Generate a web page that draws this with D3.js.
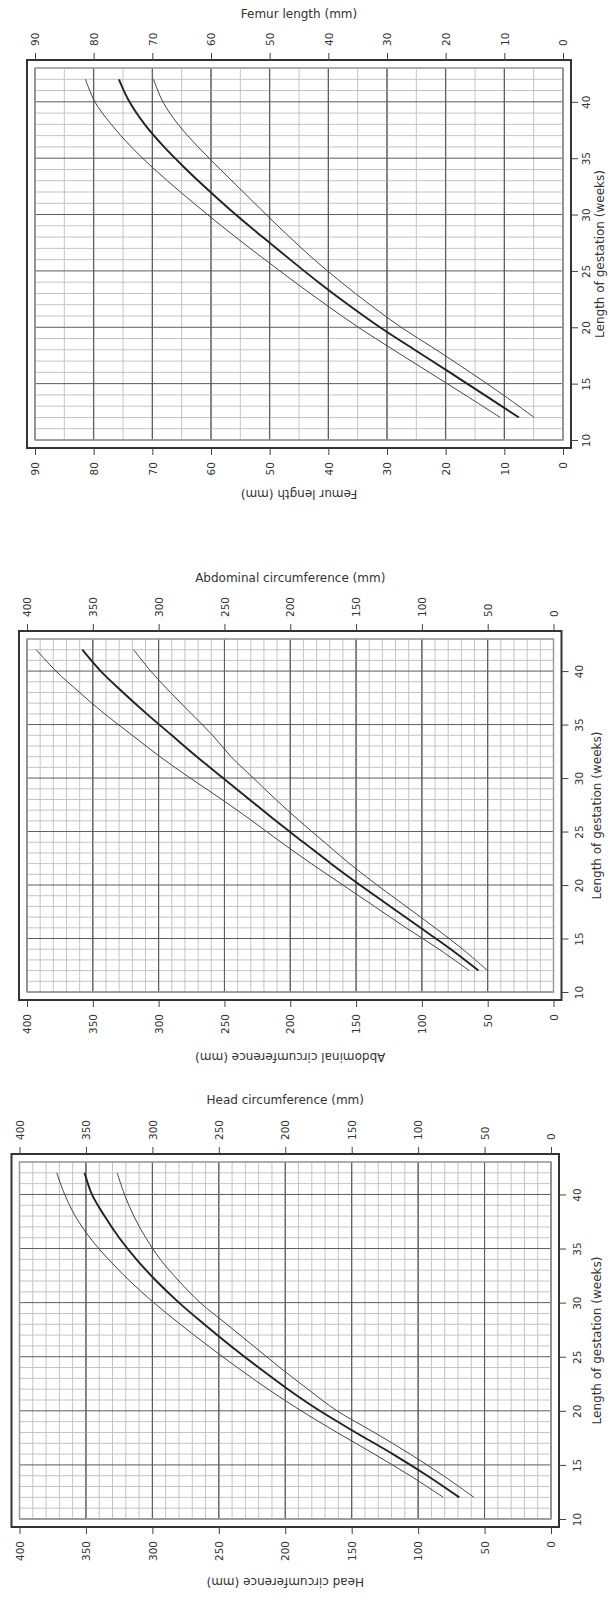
<html lang="en">
  <head>
    <meta charset="utf-8">
    <title>Fetal growth charts</title>
    <script src="https://d3js.org/d3.v7.min.js"></script>
    <style>
      body { margin: 0; background: #fff; }
      text { font-family: "DejaVu Sans", Verdana, sans-serif; fill: #333; }
      .title { font-size: 12px; }
      .tick text { font-size: 10.5px; fill: #333; }
    </style>
  </head>
  <body>
    <script type="text/javascript">

    var weeks = [12, 14, 16, 18, 20, 22, 24, 26, 28, 30, 32, 34, 36, 38, 40, 42];

    // femur length (mm)
    var femurLower = [4.9, 10.2, 15.8, 21.6, 27.6, 32.9, 37.8, 42.4, 46.6, 50.6, 54.5, 58.4, 62.2, 65.6, 68.2, 69.8];
    var femurMean  = [7.5, 13.4, 19.3, 25.3, 31.2, 36.6, 41.7, 46.5, 51.2, 55.8, 60.1, 64.2, 68.0, 71.3, 73.9, 75.7];
    var femurUpper = [10.7, 16.7, 22.8, 28.9, 34.9, 40.4, 45.7, 50.8, 55.8, 60.6, 65.2, 69.6, 73.6, 77.0, 79.8, 81.4];

    // abdominal circumference (mm)
    var acLower = [50, 69, 90, 112, 134, 155, 174, 193, 211, 228, 245, 259, 275, 291, 306, 319];
    var acMean  = [57, 78, 101, 124, 147, 169, 190, 211, 231, 251, 271, 290, 309, 327, 344, 358];
    var acUpper = [64, 87, 112, 136, 160, 184, 207, 229, 252, 276, 299, 320, 341, 360, 378, 393];

    // head circumference (mm)
    var hcLower = [58, 81, 106, 133, 161, 183, 204, 224, 244, 264, 280, 294, 305, 314, 321, 326.5];
    var hcMean  = [69, 93, 119, 147, 174, 198, 220, 241, 261, 280, 297, 312, 325, 336, 345.5, 351];
    var hcUpper = [81, 106, 133, 161, 188, 213, 236, 258, 279, 299, 317, 333, 347, 358, 366, 372];

    // tick labels
    var femurTicks = [0, 10, 20, 30, 40, 50, 60, 70, 80, 90];
    var circTicks = [0, 50, 100, 150, 200, 250, 300, 350, 400];
    var weekTicks = [10, 15, 20, 25, 30, 35, 40];
    var weekLabel = "Length of gestation (weeks)";

    // the charts are printed turned a quarter turn: measurement runs right to left,
    // gestation runs bottom to top
    var panels = [
      { name: "Femur length (mm)", lower: femurLower, mean: femurMean, upper: femurUpper,
        max: 90, ticks: femurTicks, minor: 5, major: 10,
        gx0: 35, gx1: 563, gy0: 68, gy1: 440, topY: 14, bottomY: 494, weekDX: 15, weekTitleX: 600 },
      { name: "Abdominal circumference (mm)", lower: acLower, mean: acMean, upper: acUpper,
        max: 400, ticks: circTicks, minor: 10, major: 50,
        gx0: 27, gx1: 553.5, gy0: 639, gy1: 992, topY: 578, bottomY: 1057, weekDX: 18, weekTitleX: 597 },
      { name: "Head circumference (mm)", lower: hcLower, mean: hcMean, upper: hcUpper,
        max: 400, ticks: circTicks, minor: 10, major: 50,
        gx0: 19.5, gx1: 551, gy0: 1162, gy1: 1519, topY: 1100, bottomY: 1582, weekDX: 18, weekTitleX: 597 }
    ];

    var pad = 8;      // gap between grid and outer box
    var labGap = 14;  // gap between box and tick labels

    var svg = d3.select("body")
      .append("svg")
      .attr("width", 608)
      .attr("height", 1602);

    panels.forEach(function(p) {
      var xScale = d3.scaleLinear().domain([0, p.max]).range([p.gx1, p.gx0]);
      var yScale = d3.scaleLinear().domain([10, 43]).range([p.gy1, p.gy0]);

      var g = svg.append("g");
      var bx0 = p.gx0 - pad, bx1 = p.gx1 + pad, by0 = p.gy0 - pad, by1 = p.gy1 + pad;

      //grid, light lines first
      var vLines = d3.range(0, p.max + 0.001, p.minor);
      var hLines = d3.range(10, 43.001, 1);

      g.selectAll(".vl")
        .data(vLines)
        .enter()
        .append("line")
        .attr("x1", function(d) { return xScale(d); })
        .attr("x2", function(d) { return xScale(d); })
        .attr("y1", p.gy0)
        .attr("y2", p.gy1)
        .attr("stroke", function(d) { return d % p.major == 0 ? "#5c5c5c" : "#c4c4c4"; })
        .attr("stroke-width", 1);

      g.selectAll(".hl")
        .data(hLines)
        .enter()
        .append("line")
        .attr("x1", p.gx0)
        .attr("x2", p.gx1)
        .attr("y1", function(d) { return yScale(d); })
        .attr("y2", function(d) { return yScale(d); })
        .attr("stroke", function(d) { return d % 5 == 0 ? "#5c5c5c" : "#c4c4c4"; })
        .attr("stroke-width", 1);

      // redraw major lines on top so they are not broken by the light ones
      g.selectAll(".vm")
        .data(vLines.filter(function(d) { return d % p.major == 0; }))
        .enter()
        .append("line")
        .attr("x1", function(d) { return xScale(d); })
        .attr("x2", function(d) { return xScale(d); })
        .attr("y1", p.gy0)
        .attr("y2", p.gy1)
        .attr("stroke", "#5c5c5c");

      // inner border of the grid
      g.append("rect")
        .attr("x", p.gx0)
        .attr("y", p.gy0)
        .attr("width", p.gx1 - p.gx0)
        .attr("height", p.gy1 - p.gy0)
        .attr("fill", "none")
        .attr("stroke", "#9a9a9a")
        .attr("stroke-width", 1.5);

      // outer box
      g.append("rect")
        .attr("x", bx0)
        .attr("y", by0)
        .attr("width", bx1 - bx0)
        .attr("height", by1 - by0)
        .attr("fill", "none")
        .attr("stroke", "#333")
        .attr("stroke-width", 2);

      // centile curves
      var series = [
        { v: p.lower, w: 1 },
        { v: p.upper, w: 1 },
        { v: p.mean, w: 1.9 }
      ];
      var line = d3.line()
        .x(function(d) { return xScale(d[1]); })
        .y(function(d) { return yScale(d[0]); })
        .curve(d3.curveCatmullRom);

      g.selectAll(".curve")
        .data(series)
        .enter()
        .append("path")
        .attr("d", function(s) { return line(weeks.map(function(w, i) { return [w, s.v[i]]; })); })
        .attr("fill", "none")
        .attr("stroke", function(s) { return s.w > 1 ? "#222" : "#444"; })
        .attr("stroke-width", function(s) { return s.w; });

      //top axis
      var topAxis = g.append("g")
        .attr("transform", "translate(0," + by0 + ")")
        .call(d3.axisTop(xScale).tickValues(p.ticks).tickSize(7).tickFormat(d3.format("d")));
      topAxis.selectAll("text")
        .attr("transform", "rotate(-90)")
        .attr("x", labGap)
        .attr("y", 0)
        .attr("dy", "0.35em")
        .style("text-anchor", "start");

      //bottom axis
      var bottomAxis = g.append("g")
        .attr("transform", "translate(0," + by1 + ")")
        .call(d3.axisBottom(xScale).tickValues(p.ticks).tickSize(7).tickFormat(d3.format("d")));
      bottomAxis.selectAll("text")
        .attr("transform", "rotate(-90)")
        .attr("x", -labGap)
        .attr("y", 0)
        .attr("dy", "0.35em")
        .style("text-anchor", "end");

      //right axis (gestation)
      var rightAxis = g.append("g")
        .attr("transform", "translate(" + bx1 + ",0)")
        .call(d3.axisRight(yScale).tickValues(weekTicks).tickSize(7));
      rightAxis.selectAll("text")
        .attr("transform", "rotate(-90)")
        .attr("x", 0)
        .attr("y", p.weekDX)
        .attr("dy", "0.35em")
        .style("text-anchor", "middle");

      [topAxis, bottomAxis, rightAxis].forEach(function(a) {
        a.select(".domain").remove();
        a.selectAll(".tick line").attr("stroke", "#444");
        a.attr("font-family", null).attr("font-size", null);
      });

      var cx = (p.gx0 + p.gx1) / 2;
      var cy = (p.gy0 + p.gy1) / 2;

      g.append("text") // title on top
        .attr("class", "title")
        .attr("x", cx)
        .attr("y", p.topY)
        .attr("dy", "0.35em")
        .style("text-anchor", "middle")
        .text(p.name);

      g.append("text") // same label, upside down below
        .attr("class", "title")
        .attr("transform", "translate(" + cx + "," + p.bottomY + ") rotate(180)")
        .attr("dy", "0.35em")
        .style("text-anchor", "middle")
        .text(p.name);

      g.append("text") // gestation label
        .attr("class", "title")
        .attr("transform", "translate(" + p.weekTitleX + "," + cy + ") rotate(-90)")
        .attr("dy", "0.35em")
        .style("text-anchor", "middle")
        .text(weekLabel);
    });

    </script>
  </body>
</html>
